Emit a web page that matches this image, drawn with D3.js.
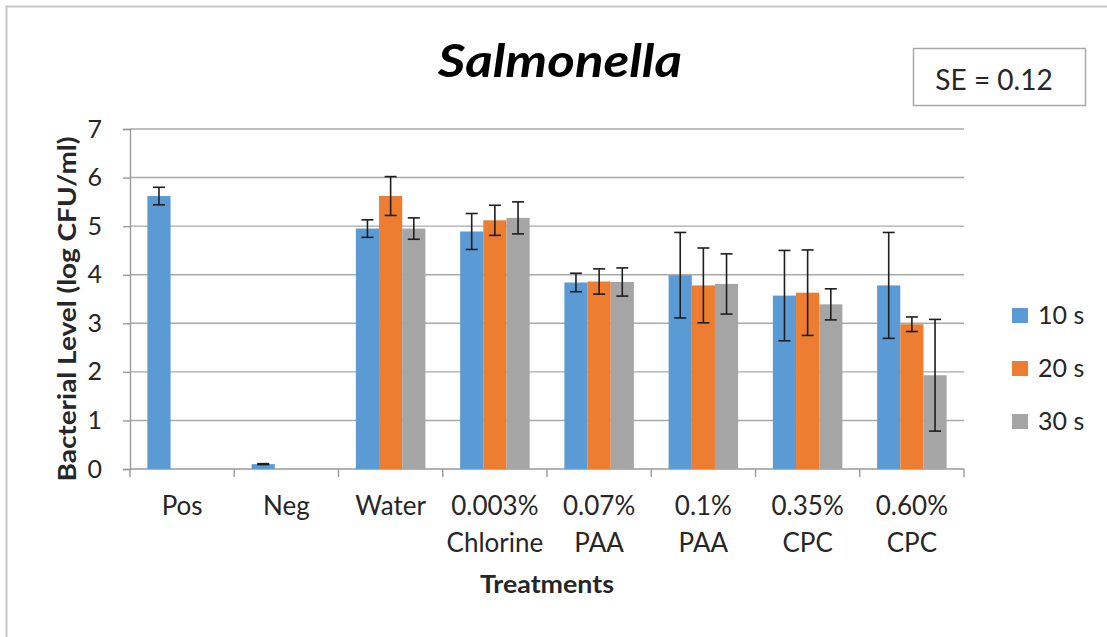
<!DOCTYPE html>
<html>
<head>
<meta charset="utf-8">
<script src="https://cdn.jsdelivr.net/npm/d3@7"></script>
<style>
  html, body { margin: 0; padding: 0; background: #fff; }
  svg { display: block; }
</style>
</head>
<body>
<div id="chart"></div>
<script>
// Salmonella bacterial level after each treatment, three contact times.
// Values, errors are half the whisker length.

const catTop    = ["Pos", "Neg", "Water", "0.003%", "0.07%", "0.1%", "0.35%", "0.60%"];
const catBottom = ["",    "",    "",      "Chlorine", "PAA", "PAA",  "CPC",   "CPC"];

const seriesNames = ["10 s", "20 s", "30 s"];
const seriesColors = ["#5b9bd5", "#ed7d31", "#a5a5a5"];

const values10 = [5.62, 0.10, 4.95, 4.89, 3.84, 3.99, 3.57, 3.78];
const errors10 = [0.18, 0.01, 0.18, 0.37, 0.19, 0.88, 0.93, 1.09];
const values20 = [null, null, 5.62, 5.12, 3.86, 3.78, 3.63, 2.98];
const errors20 = [null, null, 0.40, 0.31, 0.26, 0.77, 0.88, 0.15];
const values30 = [null, null, 4.95, 5.17, 3.85, 3.81, 3.39, 1.93];
const errors30 = [null, null, 0.22, 0.33, 0.29, 0.62, 0.32, 1.15];

const yTicks = [0, 1, 2, 3, 4, 5, 6, 7];

const allValues = [values10, values20, values30];
const allErrors = [errors10, errors20, errors30];

const W = 1107, H = 637;
const plot = { left: 130, right: 964, top: 129, bottom: 469 };
const font = "Lato, 'Open Sans', sans-serif";
const textColor = "#262626";

const svg = d3.select("#chart").append("svg")
  .attr("width", W)
  .attr("height", H);

svg.append("rect")
  .attr("width", W).attr("height", H)
  .attr("fill", "#fff");

// chart area border, only top and left edges are in frame
svg.append("rect")
  .attr("x", 6.5).attr("y", 6.5)
  .attr("width", W + 20).attr("height", H + 20)
  .attr("fill", "none")
  .attr("stroke", "#c6c6c6")
  .attr("stroke-width", 2);

const x0 = d3.scaleBand()
  .domain(d3.range(catTop.length))
  .range([plot.left, plot.right])
  .paddingInner(0).paddingOuter(0);

// excel style gap width of 150%
const x1 = d3.scaleBand()
  .domain(d3.range(seriesNames.length))
  .range([0, x0.bandwidth()])
  .paddingInner(0)
  .paddingOuter(0.75);

const y = d3.scaleLinear()
  .domain([0, 7])
  .range([plot.bottom, plot.top]);

// gridlines
svg.append("g")
  .selectAll("line")
  .data(yTicks.filter(t => t > 0))
  .join("line")
  .attr("x1", plot.left).attr("x2", plot.right)
  .attr("y1", d => y(d)).attr("y2", d => y(d))
  .attr("stroke", "#a9a9a9")
  .attr("stroke-width", 1.4);

// y axis
const yAxis = svg.append("g")
  .attr("transform", `translate(${plot.left},0)`)
  .call(d3.axisLeft(y).tickValues(yTicks).tickSize(7).tickPadding(21).tickFormat(d3.format("d")));
yAxis.select(".domain").attr("stroke", "#9a9a9a").attr("stroke-width", 1.4);
yAxis.selectAll(".tick line").attr("stroke", "#9a9a9a").attr("stroke-width", 1.4);
yAxis.selectAll(".tick text")
  .attr("font-family", font)
  .attr("font-size", "25px")
  .attr("fill", textColor);

// x axis: ticks on category boundaries
const xAxis = svg.append("g");
xAxis.append("line")
  .attr("x1", plot.left).attr("x2", plot.right)
  .attr("y1", plot.bottom).attr("y2", plot.bottom)
  .attr("stroke", "#9a9a9a").attr("stroke-width", 1.4);
xAxis.selectAll("line.tk")
  .data(d3.range(catTop.length + 1))
  .join("line")
  .attr("class", "tk")
  .attr("x1", i => i < catTop.length ? x0(i) : plot.right)
  .attr("x2", i => i < catTop.length ? x0(i) : plot.right)
  .attr("y1", plot.bottom).attr("y2", plot.bottom + 8)
  .attr("stroke", "#9a9a9a").attr("stroke-width", 1.4);

const labels = svg.append("g")
  .attr("font-family", font)
  .attr("font-size", "26px")
  .attr("fill", textColor)
  .attr("text-anchor", "middle");

labels.selectAll("text.l1")
  .data(catTop)
  .join("text")
  .attr("class", "l1")
  .attr("x", (d, i) => x0(i) + x0.bandwidth() / 2)
  .attr("y", 515)
  .text(d => d);

labels.selectAll("text.l2")
  .data(catBottom)
  .join("text")
  .attr("class", "l2")
  .attr("x", (d, i) => x0(i) + x0.bandwidth() / 2)
  .attr("y", 552)
  .text(d => d);

// bars
const bars = [];
allValues.forEach((vals, s) => {
  vals.forEach((v, i) => {
    if (v != null) bars.push({ s, i, v, e: allErrors[s][i] });
  });
});

svg.append("g")
  .selectAll("rect")
  .data(bars)
  .join("rect")
  .attr("x", d => x0(d.i) + x1(d.s))
  .attr("width", x1.bandwidth())
  .attr("y", d => y(d.v))
  .attr("height", d => y(0) - y(d.v))
  .attr("fill", d => seriesColors[d.s]);

// error bars
const errG = svg.append("g")
  .attr("stroke", "#1e1e1e")
  .attr("stroke-width", 1.6);

const capHalf = 6;
bars.forEach(d => {
  const cx = x0(d.i) + x1(d.s) + x1.bandwidth() / 2;
  const yTop = y(d.v + d.e);
  const yBot = y(d.v - d.e);
  errG.append("line").attr("x1", cx).attr("x2", cx).attr("y1", yTop).attr("y2", yBot);
  errG.append("line").attr("x1", cx - capHalf).attr("x2", cx + capHalf).attr("y1", yTop).attr("y2", yTop);
  errG.append("line").attr("x1", cx - capHalf).attr("x2", cx + capHalf).attr("y1", yBot).attr("y2", yBot);
});

// title
svg.append("text")
  .attr("x", 560)
  .attr("y", 77)
  .attr("text-anchor", "middle")
  .attr("font-family", font)
  .attr("font-size", "46px")
  .attr("font-weight", "700")
  .attr("font-style", "italic")
  .attr("fill", "#000")
  .attr("textLength", 244)
  .attr("lengthAdjust", "spacingAndGlyphs")
  .text("Salmonella");

// SE box
svg.append("rect")
  .attr("x", 913.5).attr("y", 48.5)
  .attr("width", 172).attr("height", 57)
  .attr("fill", "#fff")
  .attr("stroke", "#a8a8a8")
  .attr("stroke-width", 1.5);

svg.append("text")
  .attr("x", 994)
  .attr("y", 90)
  .attr("text-anchor", "middle")
  .attr("font-family", font)
  .attr("font-size", "28px")
  .attr("fill", textColor)
  .text("SE = 0.12");

// axis titles
svg.append("text")
  .attr("transform", "rotate(-90)")
  .attr("x", -309)
  .attr("y", 76)
  .attr("text-anchor", "middle")
  .attr("font-family", font)
  .attr("font-size", "25px")
  .attr("font-weight", "700")
  .attr("fill", textColor)
  .attr("textLength", 345)
  .attr("lengthAdjust", "spacingAndGlyphs")
  .text("Bacterial Level (log CFU/ml)");

svg.append("text")
  .attr("x", (plot.left + plot.right) / 2)
  .attr("y", 593)
  .attr("text-anchor", "middle")
  .attr("font-family", font)
  .attr("font-size", "24px")
  .attr("font-weight", "700")
  .attr("fill", textColor)
  .attr("textLength", 134)
  .attr("lengthAdjust", "spacingAndGlyphs")
  .text("Treatments");

// legend
const legend = svg.append("g")
  .attr("transform", "translate(1012, 308)");

const rows = legend.selectAll("g")
  .data(seriesNames)
  .join("g")
  .attr("transform", (d, i) => `translate(0, ${i * 53})`);

rows.append("rect")
  .attr("width", 16).attr("height", 15)
  .attr("fill", (d, i) => seriesColors[i]);

rows.append("text")
  .attr("x", 26)
  .attr("y", 16)
  .attr("font-family", font)
  .attr("font-size", "25px")
  .attr("fill", textColor)
  .text(d => d);
</script>
</body>
</html>
